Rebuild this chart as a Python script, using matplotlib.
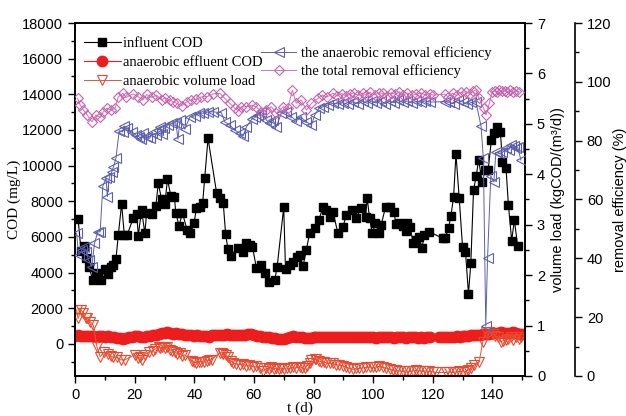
import numpy as np
import matplotlib.pyplot as plt
from matplotlib.ticker import MultipleLocator

# influent COD (mg/L)
t_inf = [1, 2, 2.9, 3.7, 4.5, 6, 7, 7.8, 8.7, 10, 11, 12, 12.8, 13.7, 14.5, 15.6, 16.5, 17.5,
         19.5, 20.7, 21.2, 22.3, 23.4, 24, 25.9, 27.1, 27.9, 29, 30.1, 31, 32.1, 33.3, 33.8,
         34.9, 36, 37.6, 38.7, 39.9, 40.7, 41.9, 42.8, 43.5, 44.6, 47.5, 48.6, 49.7, 50.5,
         51.3, 52.2, 54.7, 56.2, 57.3, 58.8, 59.5, 60.8, 62.5, 63.6, 65.1, 67, 67.8, 70, 70.6,
         72, 73.1, 74.6, 75.4, 76.5, 77.6, 78.7, 80.4, 81.8, 83.2, 84.3, 85.6, 86.5, 88.2,
         89.9, 91, 93, 94.1, 96, 97.5, 98, 98.8, 99.7, 100.8, 102.1, 102.7, 104.2, 105.5,
         106.9, 107.7, 108.8, 109.9, 110.9, 111.4, 112.4, 113.5, 114.4, 115.3, 116.4, 117.2,
         118.7, 123.3, 124.1, 125.3, 126.1, 127, 127.8, 128.9, 130, 131, 132, 132.8, 133.7,
         134.6, 135.4, 136.6, 137.5, 138.6, 139.7, 140.7, 141.6, 142.7, 143.4, 144.6, 145.4,
         146.5, 147.4, 148.5]
cod_inf = [7000, 5200, 5500, 4800, 4330, 3600, 3900, 3950, 3600, 4200, 3900, 4300, 4400, 4750,
           6130, 7850, 6130, 6130, 7050, 7270, 6070, 7510, 6200, 7360, 7270, 7740, 9000, 8130,
           7850, 9230, 8320, 8260, 7320, 6630, 7340, 6390, 6200, 6770, 7600, 7700, 7920, 9330,
           11530, 8450, 8200, 7920, 6170, 5300, 4930, 5400, 5180, 5650, 5550, 5460, 4280, 4430,
           3960, 3490, 3590, 4330, 7660, 4210, 4430, 4620, 4900, 4990, 4370, 5270, 6200, 6490,
           6950, 7700, 7510, 7140, 7420, 6200, 6580, 7230, 7510, 7050, 7610, 7140, 8200, 7050,
           6200, 6770, 6200, 6670, 7700, 7700, 7420, 6730, 6770, 6620, 6350, 6800, 6540, 5650,
           5830, 5980, 5400, 6110, 6300, 5930, 5930, 6490, 7180, 8220, 10650, 8170, 5460, 5180,
           2800, 4560, 8640, 9420, 10320, 9060, 9760, 9760, 11440, 11820, 12180, 11910, 10220,
           9850, 7790, 5790, 6950, 5490]

# anaerobic effluent COD (mg/L), daily samples
t_eff = list(range(0, 120)) + list(range(122, 151))
cod_eff = [450, 480, 430, 470, 420, 460, 430, 400, 450, 420, 400,
           420, 380, 400, 350, 330, 300, 320,
           380, 400, 420, 430, 410, 400, 430, 450,
           480, 520, 560, 600, 620, 640, 600, 580, 600, 560,
           540, 520, 500, 480, 470, 480, 460, 440, 420, 400,
           480, 500, 490, 500, 520, 540, 500, 480, 500, 520,
           500, 480, 560, 540, 500, 460, 440, 400, 380, 360,
           340, 320, 300, 280, 260, 320, 380, 420, 400, 380,
           360, 340, 320, 340, 360, 380, 400, 380, 360, 380,
           400, 380, 360, 380, 400, 380, 360, 380, 400, 380,
           360, 380, 400, 380, 360, 340, 360, 380, 400, 380,
           360, 340, 360, 380, 360, 340, 360, 380, 360, 340, 360, 340, 360, 380,
           380, 360, 380, 400, 380, 400, 420, 400, 420,
           440, 460, 480, 500, 520, 520, 540,
           560, 580, 600, 620, 620, 640, 620, 600, 620, 640, 600, 580, 560]

# anaerobic volume load (kgCOD/(m3/d))
t_vl = [0.5, 1, 2, 2.8, 3.5, 4.1, 5, 6.1, 7.3, 8.4, 9.8, 11.2, 12, 12.6, 14, 15.3, 16.7, 20, 21,
        21.8, 22.5, 23.4, 24.9, 26, 26.8, 28, 28.5, 29.3, 30.1, 31, 31.8, 32.5, 33.5, 34.3,
        35.2, 36, 36.8, 39.1, 40, 40.7, 41.5, 42.4, 43.2, 44.1, 45, 45.8, 48.6, 49.2, 49.7,
        50.5, 51.3, 52.2, 53, 54, 55.3, 56.3, 57.5, 58.5, 59.7, 60.8, 62, 63, 64.2, 65, 65.9,
        66.7, 67.5, 68.3, 69.2, 70, 71, 72, 73, 74, 75.4, 76.2, 77, 77.8, 78.7, 79.3, 80.4,
        81, 81.8, 82.6, 83.5, 84.3, 85.4, 86.5, 87.6, 88.7, 89.8, 91, 92, 93.2, 94.3, 95.4,
        96.5, 97.7, 98.8, 100, 101, 102, 103.2, 104.3, 105.5, 106.6, 107.7, 108.8, 110, 111,
        112.2, 113.3, 114.4, 115.5, 116.6, 117.7, 118.9, 120, 121.1, 124.5, 125.5, 126.7,
        127.8, 128.9, 130, 131.2, 132, 132.8, 134, 135.6, 136.8, 137.9, 139, 140.1, 141,
        141.8, 142.9, 143.7, 144.6, 145.4, 146.2, 147, 147.9, 148.8, 149.6]
vload = [1.31, 1.14, 1.31, 1.25, 1.14, 1.14, 1.08, 1.01, 0.58, 0.38, 0.48, 0.44, 0.40, 0.38,
         0.37, 0.32, 0.32, 0.42, 0.35, 0.38, 0.32, 0.42, 0.48, 0.50, 0.53, 0.58, 0.55, 0.57,
         0.55, 0.58, 0.52, 0.50, 0.48, 0.44, 0.45, 0.40, 0.42, 0.30, 0.28, 0.26, 0.28, 0.28,
         0.28, 0.30, 0.31, 0.32, 0.46, 0.46, 0.44, 0.42, 0.38, 0.30, 0.26, 0.24, 0.22, 0.24,
         0.20, 0.22, 0.18, 0.20, 0.15, 0.09, 0.15, 0.14, 0.18, 0.14, 0.15, 0.13, 0.15, 0.14,
         0.16, 0.15, 0.17, 0.16, 0.18, 0.16, 0.15, 0.20, 0.25, 0.32, 0.33, 0.33, 0.30, 0.28,
         0.27, 0.26, 0.25, 0.25, 0.22, 0.22, 0.20, 0.18, 0.15, 0.13, 0.15, 0.15, 0.16, 0.17,
         0.18, 0.17, 0.18, 0.19, 0.17, 0.16, 0.13, 0.12, 0.11, 0.10, 0.09, 0.10, 0.09, 0.10,
         0.11, 0.10, 0.09, 0.10, 0.09, 0.08, 0.07, 0.07, 0.08, 0.07, 0.08, 0.09, 0.08, 0.09,
         0.12, 0.15, 0.22, 0.28, 0.68, 0.88, 0.88, 0.84, 0.80, 0.78, 0.68, 0.70, 0.71, 0.74,
         0.78, 0.72, 0.77, 0.74, 0.78]

# anaerobic removal efficiency (%)
t_ana = [0.5, 1.2, 2.2, 3, 3.7, 4.5, 5.6, 6.5, 7.6, 8.4, 9.3, 10.4, 10.8, 11.5, 12.3, 12.8,
         13.7, 14.8, 16, 16.5, 17.3, 19, 20.4, 21.5, 22.2, 22.9, 24.2, 25, 25.7, 27.1, 27.8,
         28.5, 29.2, 29.9, 31.2, 32.4, 33.8, 34.5, 35.2, 36.8, 38.5, 40.2, 41.6, 43, 44.6,
         46.3, 49.1, 50.2, 51.9, 53.6, 55.3, 56.4, 57.5, 59.2, 60.3, 61.4, 62.5, 64.2, 65.3,
         66.4, 67.5, 69.2, 70.9, 72.6, 74.2, 75.9, 77.6, 79.3, 80.4, 81.8, 83.2, 84.8, 86.5,
         88.2, 89.9, 91.5, 93.2, 95, 96.5, 98, 99.5, 101, 102.5, 104, 105.5, 107, 108.5, 110,
         111.5, 113, 114.5, 116, 117.5, 119, 124, 125.5, 127, 128.5, 130, 131.5, 133, 134.5,
         136.2, 137, 137.8, 138.4, 139.5, 140.5, 141.2, 142.4, 143.4, 144.6, 145.5, 146.2,
         147.4, 147.9, 148.5, 149.6]
eff_ana = [48.5, 41, 42.8, 44, 42.3, 39.4, 37.2, 45.1, 49, 49, 64.6, 67.2, 61, 67.7, 69.4,
           70.9, 74, 83.4, 83, 85, 84.2, 83, 81.9, 81.3, 80.5, 82.5, 81.3, 80.8, 82.5, 81.9,
           83.5, 84.7, 82.3, 84.2, 85.3, 85.9, 86.1, 80.5, 87, 83.9, 88.1, 88.4, 89.3, 89.3,
           89.8, 89.8, 89.5, 86.4, 85.3, 83.6, 82.5, 81.6, 84.7, 87.2, 87.9, 88.7, 89.8, 87,
           85.9, 87, 84.7, 89.3, 89.8, 88.1, 86.8, 87.9, 86.4, 85.3, 88.7, 91, 91.5, 92.1,
           92.7, 92.5, 92.9, 92.3, 93.2, 92.5, 93.4, 92.7, 93.5, 92.8, 93.6, 92.6, 93.4, 92.9,
           93.7, 93, 93.5, 92.8, 93.4, 93, 93.5, 93.1, 93.3, 93, 92.6, 93.8, 93.2, 92.4, 93,
           93.2, 85, 74, 17, 40, 68, 66, 76, 75.7, 76, 77.4, 76.8, 78.5, 78.3, 77.4, 77.9, 73.4]

# total removal efficiency (%)
t_tot = [0.8, 1.7, 2.8, 4.1, 5.6, 7, 8.4, 9.5, 10.6, 12.1, 13.4, 14.5, 16, 17.1, 19.5, 21.2,
         22.7, 24, 25.7, 27.3, 29, 30.1, 31.8, 32.9, 34.1, 35.7, 37.4, 39, 40.7, 42.4, 44.1,
         46.3, 48.6, 50.2, 51.9, 53.6, 54.7, 55.8, 57.5, 59.2, 60.8, 62.5, 64.2, 65.9, 67.5,
         69.8, 71.4, 72.9, 74.2, 75.9, 77.6, 79.3, 81.5, 83, 84.5, 86.5, 88, 89.5, 91, 92.1,
         93.5, 95, 96.5, 97.7, 99, 100.5, 102, 103.2, 104.5, 106, 107.5, 108.8, 110, 111.5,
         113, 114.4, 116, 117.5, 119, 120, 124, 125, 126.7, 128, 129.5, 131.2, 132.5, 133.5,
         134.5, 135.6, 137.1, 137.9, 139, 139.9, 140.8, 141.5, 142.4, 143.3, 144.2, 145, 146,
         147, 148, 149]
eff_tot = [94.4, 92.1, 90.4, 88.7, 86.4, 88.7, 87.9, 89.8, 91, 90.4, 91, 94.9, 96.1, 94.7,
           95.9, 94.9, 93.8, 95.7, 94.7, 95.5, 93.8, 94.6, 93.8, 93.2, 92.7, 91.8, 93.2, 93.8,
           94, 94.9, 94.9, 95.9, 96.1, 94.4, 92.7, 91, 90.2, 91.5, 91.5, 92.1, 91.5, 89.8, 90.4,
           91.5, 89.3, 91.5, 91, 97.2, 92.7, 93.8, 90.4, 92.7, 94.4, 95.5, 94.8, 96.1, 95.2, 96,
           95.1, 95.7, 96.3, 95.4, 96.2, 95.5, 96.4, 95.6, 96.2, 96.1, 95.3, 96.3, 95.7, 96.6,
           95.4, 96.2, 95.5, 95.7, 96.3, 95.6, 96, 95.5, 95.8, 95, 96.1, 95.4, 96.4, 96.6, 95.8,
           96.8, 97.2, 94.4, 91, 88.7, 92.7, 96.6, 97, 96.5, 97.2, 96.8, 97, 96.6, 97.1, 96.5,
           96.9, 96.6]

serif = 'Liberation Serif'
sans = 'Liberation Sans'
plt.rcParams['font.family'] = sans
plt.rcParams['font.size'] = 10

fig = plt.figure(figsize=(6.26, 4.16), dpi=100)
ax = fig.add_axes([0.12, 0.0962, 0.7188, 0.8485])
ax2 = ax.twinx()
ax3 = ax.twinx()
ax3.spines['right'].set_position(('axes', 1.111))
for s in ['left', 'top', 'bottom']:
    ax3.spines[s].set_visible(False)

l1, = ax.plot(t_inf, cod_inf, '-', color='black', lw=0.8, marker='s', ms=5.5,
              mfc='black', mec='black', label='influent COD')
l2, = ax.plot(t_eff, cod_eff, '-', color='#ee1d1d', lw=0.8, marker='o', ms=7.5,
              mfc='#ee1d1d', mec='#ee1d1d', label='anaerobic effluent COD')
l3, = ax2.plot(t_vl, vload, '-', color='#e8553a', lw=0.7, marker='v', ms=6.5,
               mfc='none', mec='#e84a30', mew=0.8, label='anaerobic volume load')
l4, = ax3.plot(t_ana, eff_ana, '-', color='#5b5fae', lw=0.7, marker='<', ms=6.5,
               mfc='none', mec='#5b5fae', mew=0.8, label='the anaerobic removal efficiency')
l5, = ax3.plot(t_tot, eff_tot, '-', color='#d070b8', lw=0.7, marker='D', ms=5.5,
               mfc='none', mec='#c862ae', mew=0.8, label='the total removal efficiency')

ax.set_xlim(0, 151)
ax.set_ylim(-1800, 18000)
ax2.set_ylim(0, 7)
ax3.set_ylim(0, 120)

ax.xaxis.set_major_locator(MultipleLocator(20))
ax.xaxis.set_minor_locator(MultipleLocator(10))
ax.yaxis.set_major_locator(MultipleLocator(2000))
ax.yaxis.set_minor_locator(MultipleLocator(1000))
ax2.yaxis.set_major_locator(MultipleLocator(1))
ax2.yaxis.set_minor_locator(MultipleLocator(0.5))
ax3.yaxis.set_major_locator(MultipleLocator(20))
ax3.yaxis.set_minor_locator(MultipleLocator(10))

for a in (ax, ax2, ax3):
    a.tick_params(which='major', direction='out', length=5, width=1, labelsize=10.5)
    a.tick_params(which='minor', direction='out', length=3, width=1)
ax.tick_params(axis='both', which='both', top=False, right=False)
for a in (ax, ax2, ax3):
    for s in a.spines.values():
        s.set_linewidth(1.2)

ax.set_xlabel('t (d)', family=serif, fontsize=11, labelpad=0)
ax.set_ylabel('COD (mg/L)', family=serif, fontsize=11, labelpad=1)
ax2.set_ylabel('volume load (kgCOD/(m³/d))', fontsize=10.5, labelpad=4)
ax3.set_ylabel('removal efficiency (%)', fontsize=10.5, labelpad=1)

leg1 = ax3.legend(handles=[l1, l2, l3], loc='upper left', bbox_to_anchor=(0.125, 0.925),
                  bbox_transform=fig.transFigure, frameon=False, prop={'family': serif, 'size': 10.5},
                  handlelength=2.5, handletextpad=0.15, labelspacing=0.4, borderaxespad=0)
ax3.add_artist(leg1)
ax3.legend(handles=[l4, l5], loc='upper left', bbox_to_anchor=(0.408, 0.902),
           bbox_transform=fig.transFigure, frameon=False, prop={'family': serif, 'size': 10.5},
           handlelength=2.4, handletextpad=0.3, labelspacing=0.25, borderaxespad=0)

fig.savefig('out.png', dpi=100)
